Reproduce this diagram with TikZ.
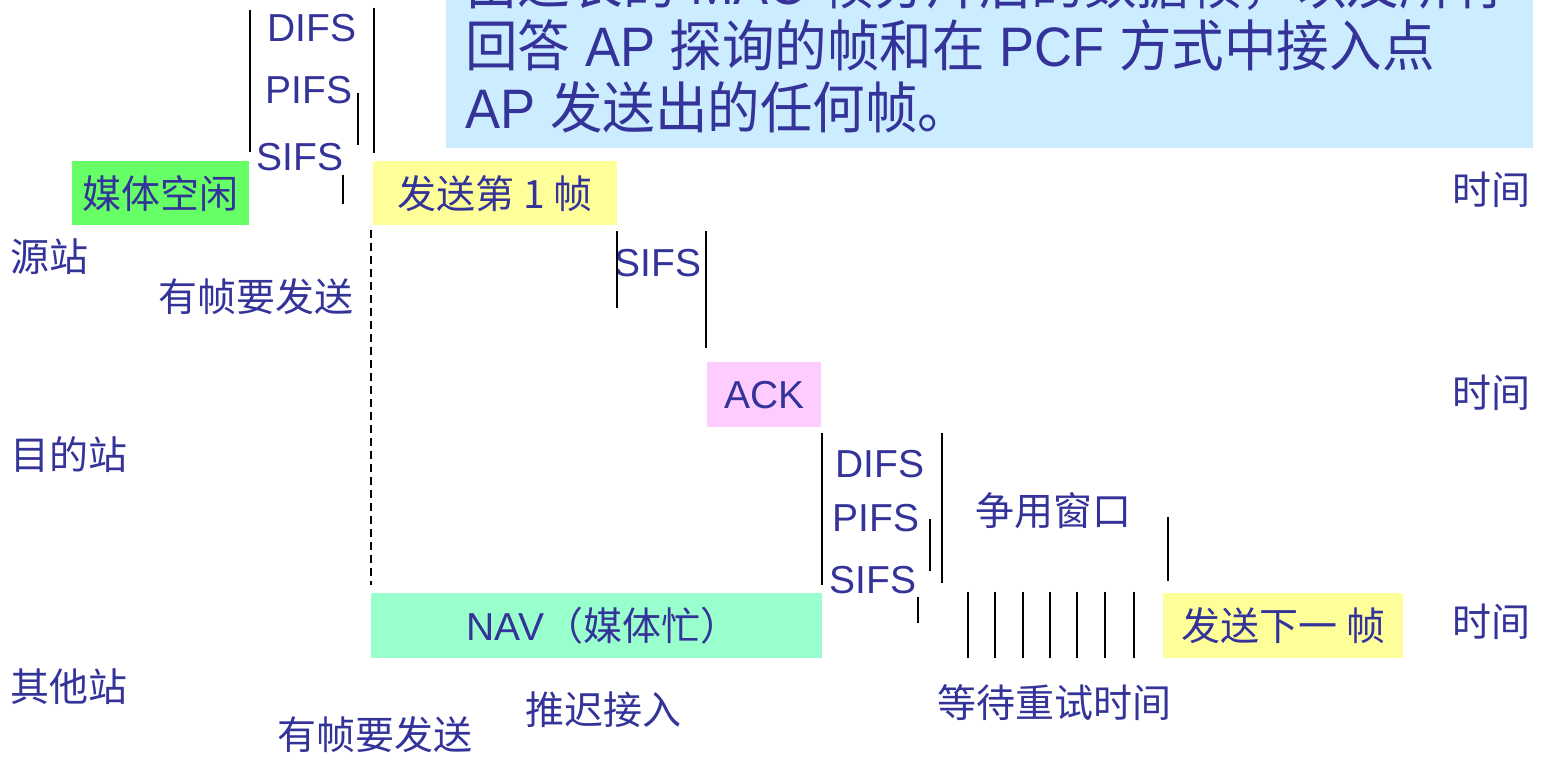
\documentclass[tikz,border=0pt]{standalone}
\usepackage{fontspec}
\setmainfont{Liberation Sans}
\newfontfamily\cjk{Noto Sans CJK SC}
\newfontfamily\cjkbig[FakeStretch=0.945]{Noto Sans CJK SC}
\newfontfamily\latinbig[FakeStretch=0.945]{Liberation Sans}
\definecolor{tc}{HTML}{333399}
\definecolor{infoblue}{HTML}{CCECFF}
\definecolor{idlegreen}{HTML}{66FF66}
\definecolor{frameyellow}{HTML}{FFFF99}
\definecolor{ackpink}{HTML}{FFCCFF}
\definecolor{navgreen}{HTML}{99FFCC}
\newcommand{\smallsz}{\fontsize{19.5pt}{23pt}\selectfont}
\newcommand{\bigsz}{\fontsize{27.8pt}{31pt}\selectfont}
\begin{document}
\begin{tikzpicture}[x=0.5pt,y=-0.5pt,
  lbl/.style={text=tc,inner sep=0pt,anchor=west,font=\smallsz},
  clbl/.style={lbl,font=\cjk\smallsz},
  biglbl/.style={text=tc,inner sep=0pt,anchor=base west,font=\latinbig\bigsz},
  framebox/.style={anchor=north west,inner sep=0pt,text=tc,font=\cjk\smallsz},
  tick/.style={line width=1pt,black},
  thintick/.style={line width=0.6pt,black}]
\useasboundingbox (0,0) rectangle (1543,758);
% information box
\fill[infoblue] (446,-20) rectangle (1533,148);
\node[biglbl] (info1) at (465,5) {{\cjkbig 由过长的} MAC {\cjkbig 帧分片后的数据帧，以及所有}};
\node[biglbl] (info2) at (465,67) {{\cjkbig 回答} AP {\cjkbig 探询的帧和在} PCF {\cjkbig 方式中接入点}};
\node[biglbl] (info3) at (465,129) {AP {\cjkbig 发送出的任何帧。}};
% station labels
\node[clbl] (src) at (10,257) {源站};
\node[clbl] (dst) at (10,455) {目的站};
\node[clbl] (oth) at (10,687) {其他站};
% source station
\node[lbl] (difsA) at (267,28) {DIFS};
\node[lbl] (pifsA) at (265,90) {PIFS};
\node[lbl] (sifsA) at (256,157) {SIFS};
\draw[tick] (250,10) -- (250,152);
\draw[tick] (374,8) -- (374,153);
\draw[tick] (358,93) -- (358,145);
\draw[thintick] (343,175) -- (343,204);
\node[framebox,fill=idlegreen,minimum width=88.5pt,minimum height=32pt] (idle) at (72,161) {媒体空闲};
\node[framebox,fill=frameyellow,minimum width=122pt,minimum height=32pt] (first) at (373,161) {发送第 1 帧};
\node[clbl] (hasA) at (158,297) {有帧要发送};
\draw[line width=0.6pt,dash pattern=on 4pt off 2.5pt] (371,230) -- (371,585);
% destination station
\node[lbl] (sifsB) at (614,263) {SIFS};
\draw[tick] (617,231) -- (617,308);
\draw[tick] (706,231) -- (706,348);
\node[framebox,fill=ackpink,minimum width=57pt,minimum height=32.5pt,font=\smallsz] (ack) at (707,362) {ACK};
% other stations
\draw[thintick] (822,433) -- (822,585);
\node[lbl] (difsC) at (835,464) {DIFS};
\node[lbl] (pifsC) at (832,518) {PIFS};
\node[lbl] (sifsC) at (829,580) {SIFS};
\draw[tick] (930,519) -- (930,571);
\draw[tick] (942,433) -- (942,583);
\draw[line width=1.4pt] (918,597) -- (918,623);
\node[clbl] (cw) at (975,511) {争用窗口};
\draw[tick] (1168,517) -- (1168,581);
\foreach \x in {968,995,1023,1050,1077,1105,1134}
  \draw[tick] (\x,592) -- (\x,658);
\node[framebox,fill=navgreen,minimum width=225.5pt,minimum height=32.5pt,font=\smallsz] (nav) at (371,593) {\hspace*{6pt}NAV{\cjk （媒体忙）}};
\node[framebox,fill=frameyellow,minimum width=120pt,minimum height=32.5pt] (next) at (1163,593) {发送下一 帧};
\node[clbl] (wait) at (937,703) {等待重试时间};
\node[clbl] (defer) at (525,710) {推迟接入};
\node[clbl] (hasB) at (277,735) {有帧要发送};
% time labels
\node[clbl] (t1) at (1452,190) {时间};
\node[clbl] (t2) at (1452,393) {时间};
\node[clbl] (t3) at (1452,622) {时间};
\end{tikzpicture}
\end{document}
